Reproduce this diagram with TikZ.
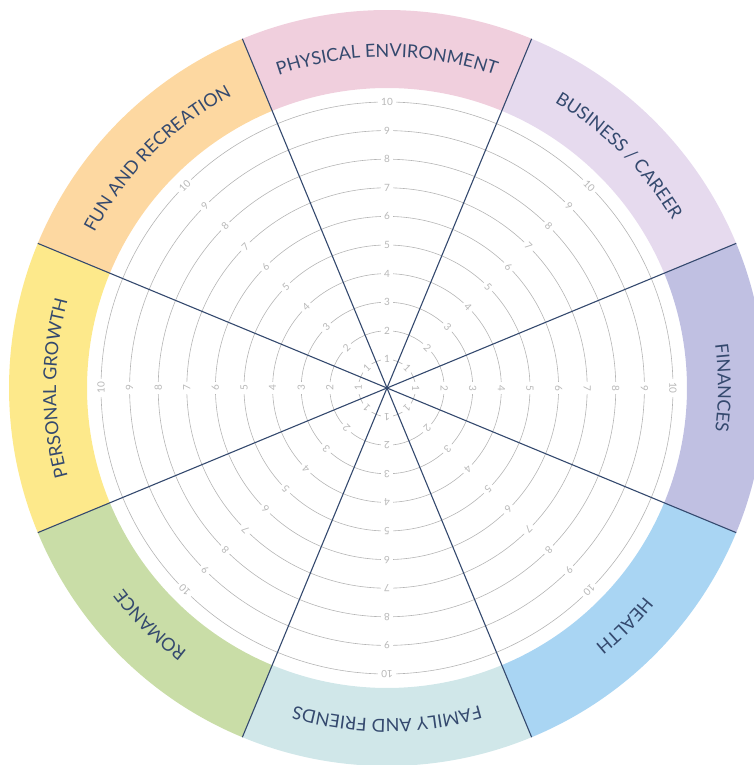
\documentclass[tikz,border=0pt]{standalone}
\usepackage{fontspec}
\setmainfont{Lato}
\usetikzlibrary{calc,decorations.text}
\definecolor{navy}{HTML}{34496E}
\definecolor{ringgray}{HTML}{B5B5B5}
\definecolor{numgray}{HTML}{B8B8B8}
\definecolor{physical}{HTML}{F0CFDD}
\definecolor{business}{HTML}{E6DAEE}
\definecolor{finances}{HTML}{C0C0E2}
\definecolor{health}{HTML}{A9D5F3}
\definecolor{friends}{HTML}{D0E7E9}
\definecolor{romance}{HTML}{C9DDA7}
\definecolor{growth}{HTML}{FDE98B}
\definecolor{recreation}{HTML}{FDD8A1}
\newcommand\labelfont{\fontsize{18}{20}\selectfont}
\newcommand\scorefont{\fontsize{10}{10}\selectfont}
\def\sectorfill[#1](#2){\fill[#1] ({#2-22.5}:300pt) arc[start angle={#2-22.5}, end angle={#2+22.5}, radius=300pt] -- ({#2+22.5}:378pt) arc[start angle={#2+22.5}, end angle={#2-22.5}, radius=378pt] -- cycle;}
\def\sectorlabel(#1)#2{\path[decorate, decoration={text along path, text align=center, text color=navy, text={|\labelfont|#2}}] ({#1+40}:331pt) arc[start angle={#1+40}, end angle={#1-40}, radius=331pt];}

\begin{document}
\begin{tikzpicture}[
		ring/.style={draw=ringgray, line width=0.6pt},
		divider/.style={draw=navy, line width=1.1pt},
		score/.style={fill=white, text=numgray, inner xsep=3pt, inner ysep=0.5pt, font=\scorefont}
	]
		%%%%% START %%%%%
		
		\useasboundingbox (-387pt, -377pt) rectangle (367pt, 388pt);
		
		\sectorfill[physical](90)
		\sectorfill[business](45)
		\sectorfill[finances](0)
		\sectorfill[health](-45)
		\sectorfill[friends](-90)
		\sectorfill[romance](-135)
		\sectorfill[growth](180)
		\sectorfill[recreation](135)
		
		\foreach \k in {1,...,10}
			\draw[ring] (0, 0) circle[radius=\k*28.6pt];
		
		\foreach \a in {0,45,...,315}
			\foreach \k in {1,...,10}
				\node[score, rotate=\a-90] (s-\a-\k) at ({\a}:{\k*28.6pt}) {\k};
		
		\coordinate (hub) at (0, 0);
		\foreach \a in {22.5,67.5,...,337.5}
			\draw[divider] (hub) -- (\a:378pt);
		\fill[navy] (hub) circle[radius=1.6pt];
		
		\sectorlabel(90){PHYSICAL ENVIRONMENT}
		\sectorlabel(45){BUSINESS / CAREER}
		\sectorlabel(0){FINANCES}
		\sectorlabel(-45){HEALTH}
		\sectorlabel(-90){FAMILY AND FRIENDS}
		\sectorlabel(-135){ROMANCE}
		\sectorlabel(180){PERSONAL GROWTH}
		\sectorlabel(135){FUN AND RECREATION}
		
		%%%%% END %%%%%
	\end{tikzpicture}
\end{document}
